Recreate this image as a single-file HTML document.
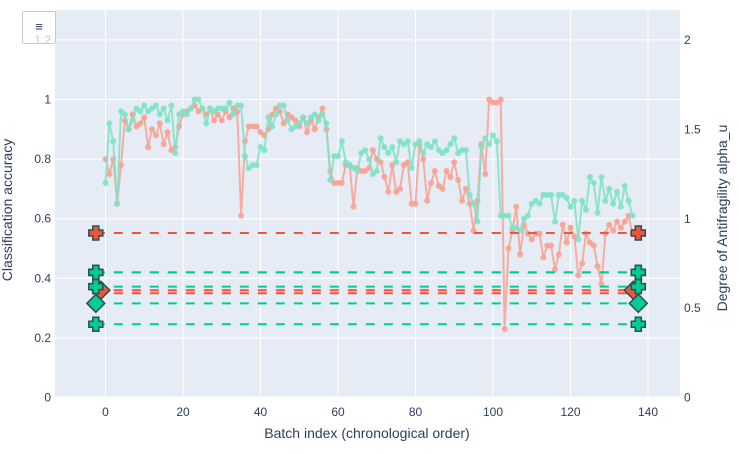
<!DOCTYPE html>
<html><head><meta charset="utf-8">
<style>
body{margin:0;background:#fff;font-family:"Liberation Sans",sans-serif;}
svg text{font-family:"Liberation Sans",sans-serif;fill:#2a3f5f;}
</style></head>
<body>
<svg id="chart" width="739" height="449">
<rect x="55" y="10" width="625" height="388" fill="#e5ecf6"/>
<g id="grid"></g><g id="lines"></g><g id="marks"></g><g id="axes"></g>
<text x="12" y="210" transform="rotate(-90 12 210)" text-anchor="middle" font-size="14">Classification accuracy</text>
<text x="727" y="218" transform="rotate(-90 727 218)" text-anchor="middle" font-size="14">Degree of Antifragility alpha_u</text>
<text x="367" y="438" text-anchor="middle" font-size="14">Batch index (chronological order)</text>
<rect x="22.5" y="11.5" width="33" height="32" fill="#fff" fill-opacity="0.7" stroke="#c0c8d8" rx="2"/>
<text x="39" y="31" text-anchor="middle" font-size="13">≡</text>
</svg>
<script>
const xTicks=[0,20,40,60,80,100,120,140];
const yTicks=[0,0.2,0.4,0.6,0.8,1,1.2];
const y2Ticks=[0,0.5,1,1.5,2];
const greenSeries=[0.72,0.92,0.86,0.65,0.96,0.95,0.90,0.93,0.97,0.96,0.98,0.96,0.97,0.98,0.95,0.97,0.93,0.98,0.82,0.95,0.96,0.95,0.97,1.0,1.0,0.97,0.92,0.97,0.96,0.97,0.97,0.97,0.99,0.95,0.98,0.98,0.81,0.77,0.78,0.78,0.84,0.83,0.94,0.91,0.95,0.98,0.98,0.93,0.90,0.91,0.92,0.94,0.92,0.94,0.95,0.93,0.95,0.92,0.73,0.81,0.81,0.86,0.79,0.78,0.77,0.76,0.82,0.83,0.80,0.75,0.76,0.87,0.84,0.82,0.84,0.79,0.86,0.85,0.86,0.77,0.85,0.86,0.82,0.85,0.84,0.86,0.83,0.82,0.83,0.85,0.87,0.82,0.83,0.83,0.68,0.65,0.59,0.84,0.87,0.85,0.88,0.86,0.61,0.61,0.61,0.57,0.57,0.56,0.60,0.61,0.65,0.66,0.65,0.68,0.68,0.68,0.59,0.68,0.68,0.67,0.64,0.66,0.53,0.66,0.63,0.74,0.72,0.62,0.74,0.66,0.70,0.65,0.69,0.64,0.71,0.66,0.61];
const salmonSeries=[0.80,0.75,0.80,0.65,0.78,0.93,0.90,0.95,0.91,0.92,0.94,0.84,0.90,0.88,0.92,0.85,0.89,0.83,0.84,0.91,0.95,0.96,0.97,0.98,0.96,0.97,0.95,0.97,0.93,0.95,0.93,0.96,0.94,0.97,0.96,0.61,0.86,0.91,0.91,0.91,0.89,0.88,0.90,0.95,0.97,0.96,0.92,0.95,0.94,0.93,0.91,0.94,0.89,0.93,0.90,0.94,0.97,0.90,0.76,0.72,0.72,0.72,0.78,0.78,0.64,0.77,0.76,0.76,0.77,0.83,0.80,0.79,0.74,0.69,0.78,0.69,0.70,0.78,0.79,0.65,0.65,0.85,0.80,0.66,0.72,0.76,0.71,0.70,0.76,0.74,0.79,0.73,0.66,0.70,0.65,0.56,0.66,0.85,0.75,1.0,0.99,0.99,1.0,0.23,0.50,0.56,0.64,0.48,0.58,0.55,0.53,0.55,0.55,0.47,0.51,0.51,0.43,0.48,0.58,0.52,0.57,0.54,0.41,0.45,0.55,0.52,0.51,0.44,0.38,0.55,0.58,0.56,0.59,0.57,0.59,0.61,0.55];
const redLevels=[0.552,0.42,0.36,0.35];
const greenLevels=[0.42,0.372,0.316,0.246];
const redMarkerKinds=['cross','cross','diamond','none'];
const greenMarkerKinds=['cross','cross','diamond','cross'];
const levelStartX=-2.5, levelEndX=137.5;

const X=v=>105.5+v*3.875;
const Y=v=>397.5-v*298;
const Y2=v=>397.5-v*178.75;
const NS='http://www.w3.org/2000/svg';
function mk(tag,parent,attrs){const e=document.createElementNS(NS,tag);for(const k in attrs)e.setAttribute(k,attrs[k]);document.getElementById(parent).appendChild(e);return e;}

yTicks.forEach(t=>{
  const l=mk('line','grid',{x1:55,x2:680,y1:Y(t),y2:Y(t),stroke:'#fff','stroke-width':t===0?2:1});
  
  
  const tx=mk('text','axes',{x:51,y:Y(t)+4,'text-anchor':'end','font-size':12});
  tx.textContent=String(t);
  
  
});
xTicks.forEach(t=>{
  const l=mk('line','grid',{x1:X(t),x2:X(t),y1:10,y2:398,stroke:'#fff','stroke-width':1});
  
  
  const tx=mk('text','axes',{x:X(t),y:416,'text-anchor':'middle','font-size':12});
  tx.textContent=String(t);
  
  
});
y2Ticks.forEach(t=>{
  const tx=mk('text','axes',{x:684,y:Y2(t)+4,'text-anchor':'start','font-size':12});
  tx.textContent=String(t);
  
  
});

function series(data,color,name){
  const pts=data.map((v,i)=>X(i)+','+Y(v)).join(' ');
  const pl=mk('polyline','lines',{points:pts,fill:'none',stroke:color,'stroke-width':2,opacity:0.85});
  
  
  data.forEach((v,i)=>{
    const c=mk('circle','lines',{cx:X(i),cy:Y(v),r:3,fill:color,opacity:0.9});
    
    
  });
}
series(salmonSeries,'#f8a291','salmon-accuracy');
series(greenSeries,'#80e2c6','green-accuracy');

function marker(kind,x,y,fill,name){
  let e;
  if(kind==='cross'){
    const s=3,L=7;
    const p=`M${x-s},${y-L}h${2*s}v${L-s}h${L-s}v${2*s}h-${L-s}v${L-s}h-${2*s}v-${L-s}h-${L-s}v-${2*s}h${L-s}z`;
    e=mk('path','marks',{d:p,fill:fill,stroke:'#2f4f4f','stroke-width':1.5});
  }else if(kind==='diamond'){
    const r=9;
    e=mk('path','marks',{d:`M${x},${y-r}L${x+r},${y}L${x},${y+r}L${x-r},${y}z`,fill:fill,stroke:'#2f4f4f','stroke-width':1.5});
  }else return;
  
  
}
function levels(vals,kinds,color,name,shift){
  vals.forEach((v,i)=>{
    const l=mk('line','marks',{x1:X(levelStartX),x2:X(levelEndX),y1:Y(v),y2:Y(v),stroke:color,'stroke-width':2,'stroke-dasharray':'9,9'});
    
    
  });
  vals.forEach((v,i)=>{
    const dx=kinds[i]==='diamond'?shift:0;
    marker(kinds[i],X(levelStartX)+dx,Y(v),color,name+'-start-marker');
    marker(kinds[i],X(levelEndX)-dx,Y(v),color,name+'-end-marker');
  });
}
levels(redLevels,redMarkerKinds,'#ef553b','red',5);
levels(greenLevels,greenMarkerKinds,'#00cc96','green',0);
</script>
</body></html>
